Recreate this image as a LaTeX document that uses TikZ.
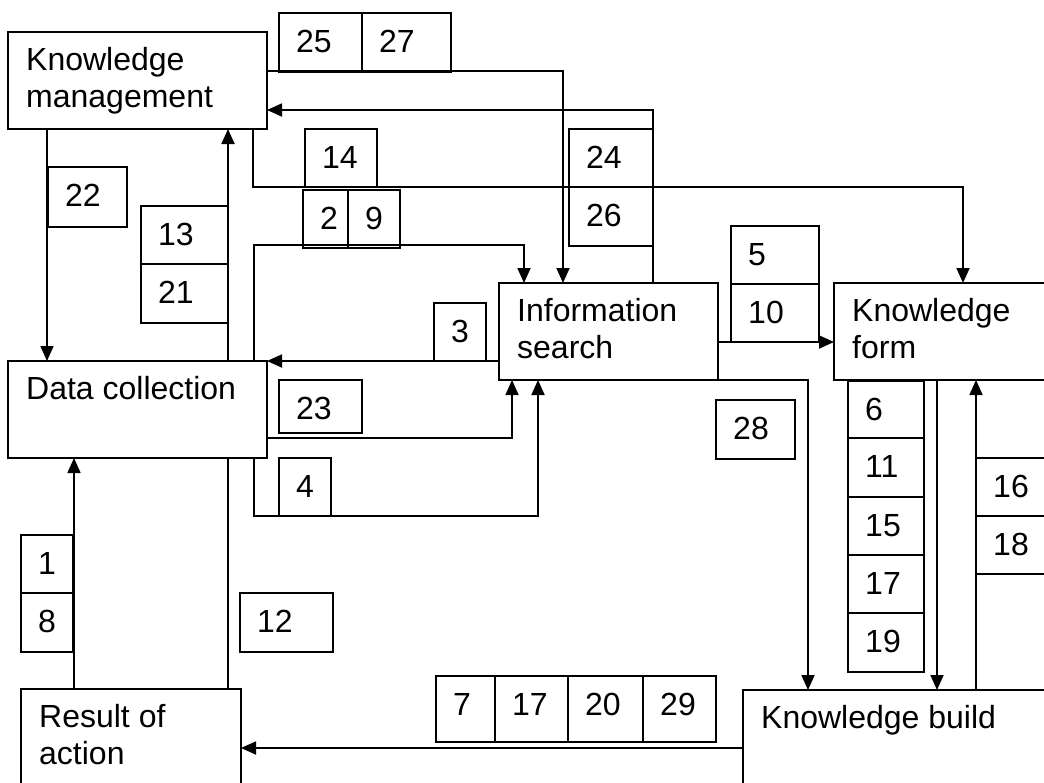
\documentclass[tikz,border=0pt]{standalone}
\usepackage{fontspec}
\setmainfont{Liberation Sans}
\usetikzlibrary{arrows.meta,backgrounds}
\tikzset{
  bx/.style={draw=black, line width=1.8pt, inner sep=0pt, outer sep=0pt, anchor=center},
  mainbx/.style={bx, fill=white},
  txt/.style={inner sep=0pt, anchor=base west, font=\fontsize{32}{37}\selectfont, text=black},
  arr/.style={draw=black, line width=1.8pt, -{Triangle[length=15pt,width=13pt]}},
}
\newcommand\numbox[6]{%
  \node[bx, minimum width={#4-#2}, minimum height={#5-#3}] (#1) at ({(#2+#4)/2},{(#3+#5)/2}) {};
  \node[txt] at ([shift={(17,39)}]#1.north west) {#6};}
\newcommand\mainbox[7]{%
  \node[mainbx, minimum width={#4-#2}, minimum height={#5-#3}] (#1) at ({(#2+#4)/2},{(#3+#5)/2}) {};
  \node[txt] at ([shift={(18,38)}]#1.north west) {#6};
  \node[txt] at ([shift={(18,75)}]#1.north west) {#7};}
\begin{document}
\begin{tikzpicture}[x=1pt,y=-1pt]
\useasboundingbox (0,0) rectangle (1044,782);
\clip (0,0) rectangle (1044,782);
% main boxes
\mainbox{km}{8}{32}{267}{129}{Knowledge}{management}
\mainbox{dc}{8}{361}{267}{458}{Data collection}{}
\mainbox{is}{499}{283}{718}{380}{Information}{search}
\mainbox{kf}{834}{283}{1060}{380}{Knowledge}{form}
\mainbox{kb}{743}{690}{1060}{800}{Knowledge build}{}
\mainbox{roa}{21}{689}{241}{800}{Result of}{action}
% number boxes
\numbox{n25}{279}{13}{362}{72}{25}
\numbox{n27}{362}{13}{451}{72}{27}
\numbox{n22}{48}{167}{127}{227}{22}
\numbox{n13}{141}{206}{228}{264}{13}
\numbox{n21}{141}{264}{228}{323}{21}
\numbox{n14}{305}{129}{377}{187}{14}
\numbox{n2}{303}{190}{348}{248}{2}
\numbox{n9}{348}{190}{400}{248}{9}
\numbox{n24}{569}{129}{653}{187}{24}
\numbox{n26}{569}{187}{653}{246}{26}
\numbox{n3}{434}{303}{486}{361}{3}
\numbox{n23}{279}{380}{362}{433}{23}
\numbox{n4}{279}{458}{331}{516}{4}
\numbox{n5}{731}{226}{819}{284}{5}
\numbox{n10}{731}{284}{819}{342}{10}
\numbox{n28}{716}{400}{795}{459}{28}
\numbox{n6}{848}{381}{924}{438}{6}
\numbox{n11}{848}{438}{924}{497}{11}
\numbox{n15}{848}{497}{924}{555}{15}
\numbox{n17b}{848}{555}{924}{613}{17}
\numbox{n19}{848}{613}{924}{672}{19}
\numbox{n16}{976}{458}{1060}{516}{16}
\numbox{n18}{976}{516}{1060}{574}{18}
\numbox{n1}{21}{535}{73}{593}{1}
\numbox{n8}{21}{593}{73}{652}{8}
\numbox{n12}{240}{593}{333}{652}{12}
\numbox{n7}{436}{676}{495}{742}{7}
\numbox{n17a}{495}{676}{568}{742}{17}
\numbox{n20}{568}{676}{643}{742}{20}
\numbox{n29}{643}{676}{716}{742}{29}
% connectors
\begin{pgfonlayer}{background}
\draw[arr] (47,0 |- km.south) -- (47,0 |- dc.north);
\draw[arr] (74,0 |- roa.north) -- (74,0 |- dc.south);
\draw[arr] (228,0 |- roa.north) -- (228,0 |- km.south);
\draw[arr] (km.east |- 0,71) -- (563,71) -- (563,0 |- is.north);
\draw[arr] (653,0 |- is.north) -- (653,110) -- (km.east |- 0,110);
\draw[arr] (253,0 |- km.south) -- (253,187) -- (963,187) -- (963,0 |- kf.north);
\draw[arr] (254,0 |- dc.north) -- (254,245) -- (524,245) -- (524,0 |- is.north);
\draw[arr] (is.west |- dc.north) -- (dc.north east);
\draw[arr] (dc.east |- 0,438) -- (512,438) -- (512,0 |- is.south);
\draw[arr] (254,0 |- dc.south) -- (254,516) -- (538,516) -- (538,0 |- is.south);
\draw[arr] (is.east |- 0,342) -- (kf.west |- 0,342);
\draw[arr] (is.south east) -- (808,0 |- is.south) -- (808,0 |- kb.north);
\draw[arr] (937,0 |- kf.south) -- (937,0 |- kb.north);
\draw[arr] (976,0 |- kb.north) -- (976,0 |- kf.south);
\draw[arr] (kb.west |- 0,748) -- (roa.east |- 0,748);
\end{pgfonlayer}
\end{tikzpicture}
\end{document}
